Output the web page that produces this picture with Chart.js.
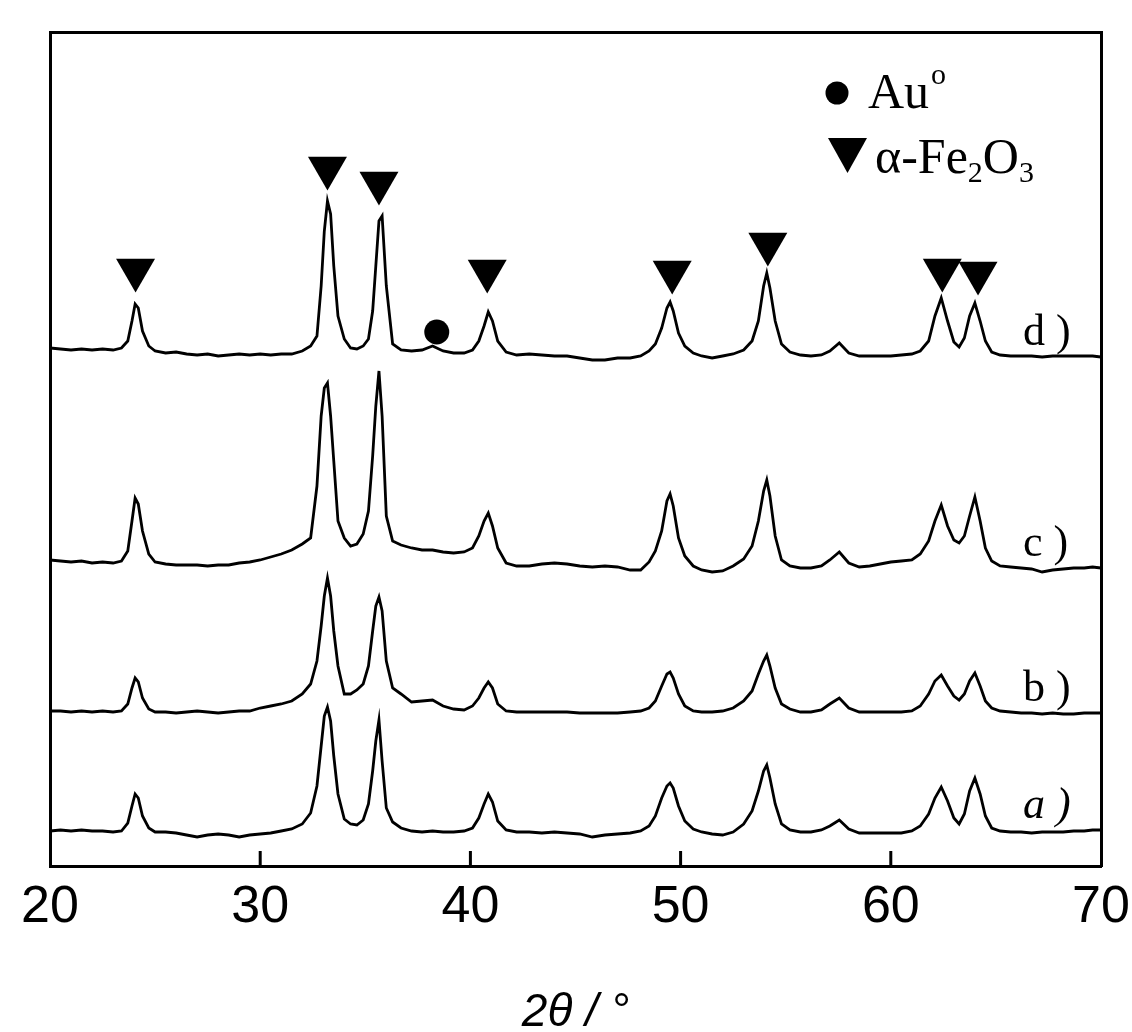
<!DOCTYPE html>
<html><head><meta charset="utf-8">
<script src="https://cdn.jsdelivr.net/npm/chart.js@4.4.1/dist/chart.umd.min.js"></script>
<style>html,body{margin:0;padding:0;background:#fff;}#wrap{width:1132px;height:1032px;}</style>
</head><body><div id="wrap"><canvas id="c" width="1132" height="1032"></canvas></div>
<script>
// 2θ grid (degrees)
const twoTheta = [
 20.0,20.5,21.0,21.5,22.0,22.5,23.0,23.4,23.7,23.9,
 24.05,24.2,24.4,24.7,25.0,25.5,26.0,26.5,27.0,27.5,
 28.0,28.5,29.0,29.5,30.0,30.5,31.0,31.5,32.0,32.4,
 32.7,32.9,33.05,33.2,33.35,33.5,33.7,34.0,34.3,34.6,
 34.9,35.15,35.35,35.5,35.65,35.8,36.0,36.3,36.7,37.2,
 37.7,38.2,38.7,39.2,39.7,40.1,40.4,40.65,40.85,41.05,
 41.3,41.7,42.2,42.8,43.4,44.0,44.6,45.2,45.8,46.4,
 47.0,47.6,48.1,48.5,48.8,49.1,49.35,49.5,49.65,49.9,
 50.2,50.6,51.0,51.5,52.0,52.5,53.0,53.4,53.7,53.95,
 54.1,54.25,54.5,54.8,55.2,55.7,56.2,56.7,57.1,57.55,
 58.0,58.5,59.0,59.5,60.0,60.5,61.0,61.4,61.8,62.1,
 62.4,62.7,63.0,63.25,63.5,63.75,64.0,64.25,64.5,64.8,
 65.2,65.7,66.2,66.7,67.2,67.7,68.2,68.7,69.2,69.6,
 70.0];
// intensities (a.u., stacked traces)
const intensityA = [
 35,36,35,36,35,35,34,35,43,60,
 72,68,50,38,34,34,33,31,29,31,
 32,31,29,31,32,33,35,37,42,53,
 80,120,150,159,145,110,72,47,42,41,
 46,62,95,125,146,105,58,44,38,35,
 34,35,34,34,35,38,48,62,72,64,
 45,36,34,34,33,34,33,32,29,31,
 32,33,35,40,50,68,80,83,78,60,
 45,37,34,32,31,34,42,55,75,95,
 101,88,62,42,36,34,34,36,40,46,
 37,33,33,33,33,33,35,40,52,68,
 79,65,48,42,52,75,88,72,50,38,
 35,34,34,33,34,34,34,35,35,36,
 36];
const intensityB = [
 155,155,154,155,154,155,154,155,162,178,
 188,184,168,157,154,154,153,154,155,154,
 153,154,155,155,158,160,162,165,172,182,
 205,240,270,288,270,235,200,172,172,176,
 182,200,235,260,269,255,205,178,172,164,
 165,166,160,157,156,160,168,178,184,178,
 162,155,154,154,154,154,154,153,153,153,
 153,154,155,158,165,180,192,194,188,172,
 160,155,154,154,155,158,165,175,192,205,
 211,200,178,162,157,154,154,156,162,168,
 158,154,154,154,154,154,155,160,172,185,
 191,180,170,166,172,185,193,180,165,158,
 155,154,153,153,152,153,152,152,153,153,
 153];
const intensityC = [
 306,305,304,305,303,304,303,305,315,345,
 368,362,335,312,304,302,301,301,301,300,
 301,301,303,304,306,309,312,316,322,328,
 380,450,478,483,450,405,345,328,320,322,
 332,355,410,460,495,450,350,325,321,318,
 316,316,314,313,314,318,330,345,353,340,
 318,303,300,300,302,303,302,300,299,300,
 299,296,296,304,315,335,365,372,360,328,
 310,300,296,294,295,300,307,320,345,375,
 386,370,330,306,300,298,298,300,306,314,
 303,299,300,302,304,305,306,312,325,345,
 361,340,326,323,330,350,369,345,318,305,
 300,299,298,297,294,296,297,298,298,299,
 298];
const intensityD = [
 518,517,516,517,516,517,516,518,525,545,
 562,558,535,520,515,513,514,512,511,512,
 510,511,512,511,512,511,512,512,515,520,
 530,580,635,665,652,600,550,527,518,517,
 520,527,555,600,645,650,580,522,516,515,
 516,520,515,513,513,516,525,540,554,545,
 525,514,511,512,511,510,510,508,506,506,
 508,508,510,515,522,538,558,564,555,533,
 520,513,510,508,510,512,516,525,545,580,
 593,578,545,522,514,511,510,511,515,523,
 513,510,510,510,510,511,512,515,525,550,
 568,545,524,519,528,550,563,545,525,514,
 511,510,510,510,509,510,510,510,510,510,
 509];
const seriesLabels = ['a','b','c','d'];
const xTickValues = [20,30,40,50,60,70];
const innerTickValues = [30,40,50,60];
// phase markers above trace d
const fePeakX = [24.07,33.2,35.65,40.8,49.6,54.15,62.45,64.15];
const fePeakY = [596,698,683,595,594,622,596,593];
const auPeakX = [38.4];
const auPeakY = [534];

const series = [intensityA,intensityB,intensityC,intensityD];
const traceSets = series.map((s,i)=>({
  label: seriesLabels[i],
  data: twoTheta.map((t,j)=>({x:t,y:s[j]})),
  borderColor:'#000', borderWidth:2.8, pointRadius:0, tension:0, fill:false, order:2
}));
const markerSets = [
  {label:'fe', type:'scatter', data: fePeakX.map((x,i)=>({x, y:fePeakY[i]})),
   pointStyle:'triangle', rotation:180, pointRadius:22.5, pointHoverRadius:22.5,
   backgroundColor:'#000', borderColor:'#000', borderWidth:0, showLine:false, order:1},
  {label:'au', type:'scatter', data: auPeakX.map((x,i)=>({x, y:auPeakY[i]})),
   pointStyle:'circle', pointRadius:12.5, pointHoverRadius:12.5,
   backgroundColor:'#000', borderColor:'#000', borderWidth:0, showLine:false, order:1}
];

const SERIF = '"Liberation Serif","Times New Roman",serif';
const SANS = '"Liberation Sans",Arial,sans-serif';

const decor = {
  id:'decor',
  afterDatasetsDraw(chart){
    const {ctx, chartArea:a, scales:{x,y}} = chart;
    ctx.save();
    // inward tick marks
    ctx.strokeStyle='#000'; ctx.lineWidth=3;
    innerTickValues.forEach(v=>{
      const px = x.getPixelForValue(v);
      ctx.beginPath(); ctx.moveTo(px,a.bottom); ctx.lineTo(px,a.bottom-15); ctx.stroke();
    });
    ctx.fillStyle='#000';
    ctx.textBaseline='alphabetic'; ctx.textAlign='left';
    // series labels
    series.forEach((s,i)=>{
      const py = y.getPixelForValue(s[s.length-1]) - 12;
      ctx.font = (i===0?'italic ':'') + '44px ' + SERIF;
      ctx.fillText(seriesLabels[i] + ' )', a.right-78, py);
    });
    // legend
    const lx = a.right-264;
    ctx.beginPath(); ctx.arc(lx, 93, 11.5, 0, Math.PI*2); ctx.fill();
    ctx.beginPath(); ctx.moveTo(lx-9,138); ctx.lineTo(lx+30,138); ctx.lineTo(lx+10.5,173); ctx.closePath(); ctx.fill();
    ctx.font = '50px '+SERIF;
    ctx.fillText('Au', lx+31, 108);
    let w = ctx.measureText('Au').width;
    ctx.font = '30px '+SERIF; ctx.fillText('o', lx+33+w, 84);
    let cx = lx+38;
    ctx.font = '50px '+SERIF; ctx.fillText('α-Fe', cx, 173); cx += ctx.measureText('α-Fe').width;
    ctx.font = '30px '+SERIF; ctx.fillText('2', cx, 182); cx += ctx.measureText('2').width;
    ctx.font = '50px '+SERIF; ctx.fillText('O', cx, 173); cx += ctx.measureText('O').width;
    ctx.font = '30px '+SERIF; ctx.fillText('3', cx, 182);
    ctx.restore();
  }
};

new Chart(document.getElementById('c'), {
  type:'line',
  data:{datasets:[...traceSets, ...markerSets]},
  options:{
    responsive:false, animation:false, devicePixelRatio:1,
    layout:{padding:{left:50, right:31, top:32, bottom:0}},
    plugins:{legend:{display:false}, tooltip:{enabled:false}},
    events:[],
    scales:{
      x:{type:'linear', position:'bottom', min:20, max:70,
        afterBuildTicks:(s)=>{ s.ticks = xTickValues.map(v=>({value:v})); },
        ticks:{color:'#000', font:{family:SANS, size:52, lineHeight:1}, padding:16, maxRotation:0, autoSkip:false},
        grid:{display:false, drawTicks:false},
        border:{display:true, color:'#000', width:3},
        title:{display:true, text:'2θ / °', color:'#000', font:{family:SANS, size:46, style:'italic', lineHeight:1}, padding:{top:0, bottom:-4}},
        afterFit:(s)=>{ s.height = 166; s.paddingRight = 0; s.paddingLeft = 0; }
      },
      x2:{type:'linear', position:'top', min:20, max:70, display:true,
        ticks:{display:false}, grid:{display:false, drawTicks:false},
        border:{display:true, color:'#000', width:3}},
      y:{type:'linear', position:'left', min:0, max:834, display:true,
        ticks:{display:false}, grid:{display:false, drawTicks:false},
        border:{display:true, color:'#000', width:3}},
      y2:{type:'linear', position:'right', min:0, max:834, display:true,
        ticks:{display:false}, grid:{display:false, drawTicks:false},
        border:{display:true, color:'#000', width:3}}
    }
  },
  plugins:[decor]
});
</script></body></html>
